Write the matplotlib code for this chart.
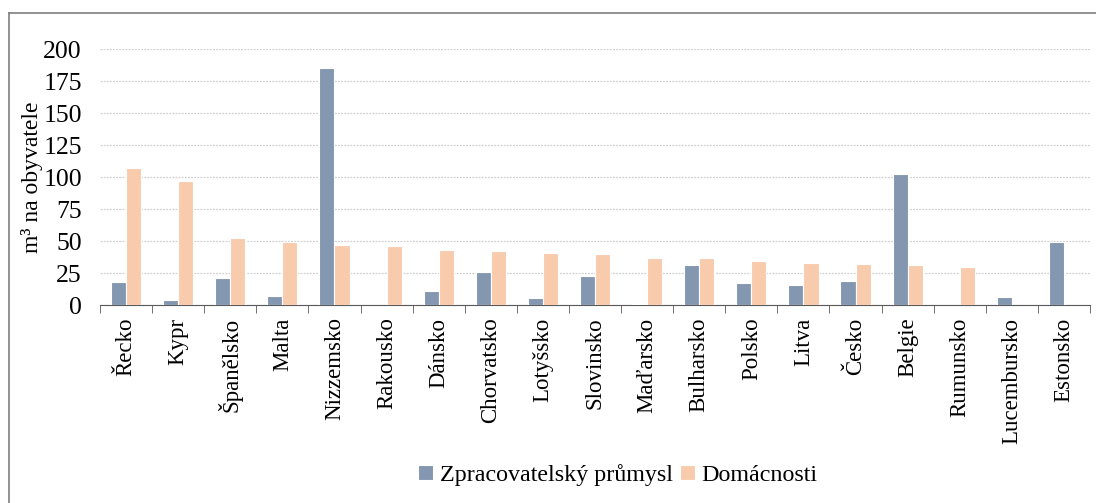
import numpy as np
import matplotlib
matplotlib.use("Agg")
import matplotlib.pyplot as plt
from matplotlib.lines import Line2D

countries = ["Řecko", "Kypr", "Španělsko", "Malta", "Nizzemsko", "Rakousko", "Dánsko",
             "Chorvatsko", "Lotyšsko", "Slovinsko", "Maďarsko", "Bulharsko", "Polsko",
             "Litva", "Česko", "Belgie", "Rumunsko", "Lucembursko", "Estonsko"]
prumysl = [18, 4, 21, 7, 185, 0, 11, 26, 5.5, 23, 1, 31, 17, 16, 19, 102, 0, 6, 49]
domacnosti = [107, 97, 52, 49, 47, 46, 43, 42, 41, 40, 37, 37, 34, 33, 32, 31, 30, 0.3, 0]

plt.rcParams['font.family'] = ['Liberation Serif', 'DejaVu Serif']

fig = plt.figure(figsize=(10.96, 5.03), dpi=100)
ax = fig.add_axes([100 / 1096, 1 - 305 / 503, 990 / 1096, 256 / 503])

x = np.arange(len(countries))
w = 0.29
ax.bar(x - w / 2, prumysl, w, color="#8497B0", edgecolor="white", linewidth=0.8,
       label="Zpracovatelský průmysl", zorder=3)
ax.bar(x + w / 2, domacnosti, w, color="#F8CBAD", edgecolor="white", linewidth=0.8,
       label="Domácnosti", zorder=3)

ax.set_xlim(-0.5, len(countries) - 0.5)
ax.set_ylim(0, 200)
ax.set_yticks(range(0, 201, 25))
ax.yaxis.grid(True, color="#d0d0d0", linestyle=(0, (1.5, 1)), linewidth=0.9)
ax.set_axisbelow(True)
for s in ["left", "right", "top"]:
    ax.spines[s].set_visible(False)
ax.spines["bottom"].set_color("#595959")
ax.tick_params(axis="y", length=0, labelsize=18.5, pad=13)

# category labels centred, tick marks on the boundaries
ax.set_xticks(x)
ax.set_xticklabels(countries, rotation=90, fontsize=16.5, va="top")
ax.tick_params(axis="x", which="major", length=0, pad=9)
ax.set_xticks(np.arange(-0.5, len(countries), 1), minor=True)
ax.tick_params(axis="x", which="minor", length=6, color="#595959", direction="out")

ax.set_ylabel("m³ na obyvatele", fontsize=17, labelpad=0)

handles, labels = ax.get_legend_handles_labels()
fig.legend(handles, labels, loc="center", bbox_to_anchor=(618 / 1096, 1 - 475 / 503),
           ncol=2, frameon=False, fontsize=17.3, handlelength=0.6, handleheight=0.6,
           handletextpad=0.3, columnspacing=0.3)

# outer frame (left and top edges visible)
fig.add_artist(Line2D([9 / 1096, 9 / 1096], [0, 1 - 13 / 503], transform=fig.transFigure,
                      color="#7f7f7f", linewidth=1.2))
fig.add_artist(Line2D([9 / 1096, 1], [1 - 13 / 503, 1 - 13 / 503], transform=fig.transFigure,
                      color="#7f7f7f", linewidth=1.2))

fig.savefig("out.png", dpi=100)
